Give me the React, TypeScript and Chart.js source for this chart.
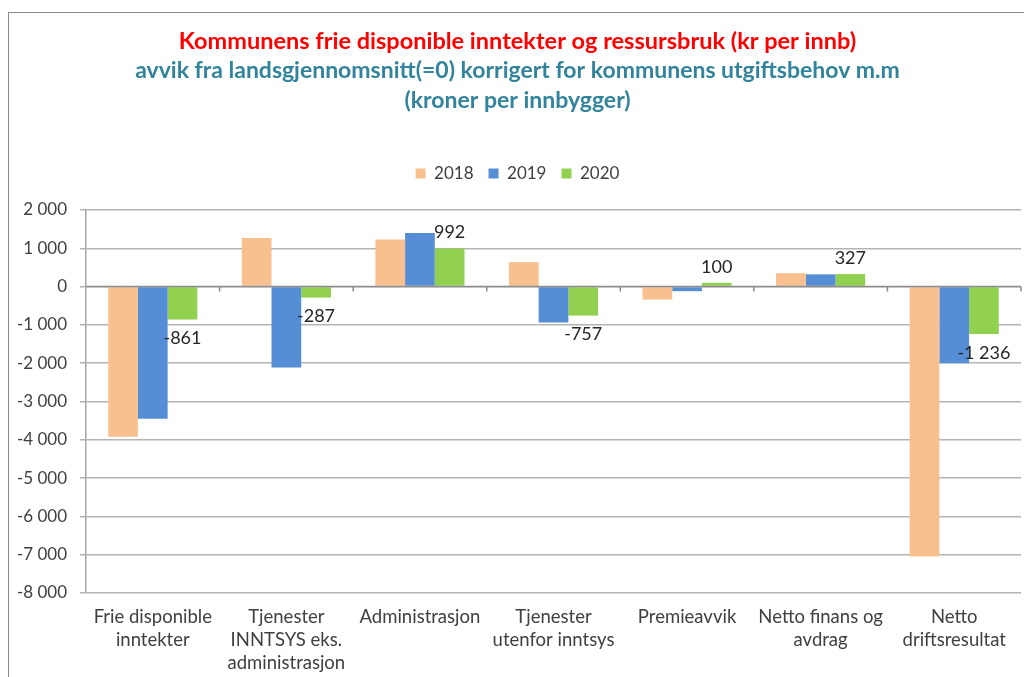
import React, { useEffect, useRef } from "react";
import { Chart, registerables } from "chart.js";

Chart.register(...registerables);

const categories: string[][] = [
  ["Frie disponible", "inntekter"],
  ["Tjenester", "INNTSYS eks.", "administrasjon"],
  ["Administrasjon"],
  ["Tjenester", "utenfor inntsys"],
  ["Premieavvik"],
  ["Netto finans og", "avdrag"],
  ["Netto", "driftsresultat"],
];
const seriesNames = ["2018", "2019", "2020"];
const values2018 = [-3920, 1270, 1230, 640, -340, 350, -7050];
const values2019 = [-3450, -2110, 1400, -940, -120, 320, -2000];
const values2020 = [-861, -287, 992, -757, 100, 327, -1236];
const yMin = -8000;
const yMax = 2000;
const yStep = 1000;

const titleText = "Kommunens frie disponible inntekter og ressursbruk (kr per innb)";
const subtitleLines = [
  "avvik fra landsgjennomsnitt(=0) korrigert for kommunens utgiftsbehov m.m",
  "(kroner per innbygger)",
];

const FONT = "Lato, 'Open Sans', sans-serif";
const TEXT_COLOR = "#404040";

const fmt = (v: number) => {
  const s = Math.abs(Math.round(v)).toString().replace(/\B(?=(\d{3})+(?!\d))/g, " ");
  return (v < 0 ? "-" : "") + s;
};

const zeroTicksPlugin = {
  id: "zeroTicks",
  afterDatasetsDraw(chart: any) {
    const { ctx, scales } = chart;
    const x = scales.x;
    const y = scales.y;
    const y0 = y.getPixelForValue(0);
    ctx.save();
    ctx.strokeStyle = "#8c8c8c";
    ctx.lineWidth = 1.5;
    ctx.beginPath();
    ctx.moveTo(chart.chartArea.left, y0);
    ctx.lineTo(chart.chartArea.right, y0);
    ctx.stroke();
    const n = categories.length;
    for (let i = 0; i < n; i++) {
      const px =
        i < n - 1
          ? (x.getPixelForValue(i) + x.getPixelForValue(i + 1)) / 2
          : chart.chartArea.right;
      ctx.beginPath();
      ctx.moveTo(px, y0);
      ctx.lineTo(px, y0 + 5);
      ctx.stroke();
    }
    ctx.restore();
  },
};

const dataLabelPlugin = {
  id: "dataLabels2020",
  afterDatasetsDraw(chart: any) {
    const { ctx } = chart;
    const meta = chart.getDatasetMeta(2);
    ctx.save();
    ctx.font = `18px ${FONT}`;
    ctx.fillStyle = "#262626";
    ctx.textAlign = "center";
    ctx.textBaseline = "middle";
    meta.data.forEach((el: any, i: number) => {
      const v = values2020[i];
      const yy = v >= 0 ? el.y - 16 : el.y + 19;
      ctx.fillText(fmt(v), el.x, yy);
    });
    ctx.restore();
  },
};

export default function App() {
  const ref = useRef<HTMLCanvasElement>(null);

  useEffect(() => {
    if (!ref.current) return;
    const chart = new Chart(ref.current, {
      type: "bar",
      data: {
        labels: categories,
        datasets: [
          { label: seriesNames[0], data: values2018, backgroundColor: "#F9C08F" },
          { label: seriesNames[1], data: values2019, backgroundColor: "#558ED5" },
          { label: seriesNames[2], data: values2020, backgroundColor: "#92D050" },
        ],
      },
      options: {
        animation: false,
        responsive: false,
        devicePixelRatio: 1,
        layout: { padding: { top: 0, left: 14, right: 3, bottom: 0 } },
        datasets: {
          bar: { categoryPercentage: 0.667, barPercentage: 1 },
        },
        plugins: {
          title: {
            display: true,
            text: titleText,
            color: "#FF0000",
            font: { family: FONT, size: 23.5, weight: "bold", lineHeight: "30px" },
            padding: { top: 26, bottom: 0 },
          },
          subtitle: {
            display: true,
            text: subtitleLines,
            color: "#31849B",
            font: { family: FONT, size: 23, weight: "bold", lineHeight: "30px" },
            padding: { top: 0, bottom: 34 },
          },
          legend: {
            display: true,
            labels: {
              boxWidth: 10,
              boxHeight: 10,
              padding: 15,
              color: TEXT_COLOR,
              font: { family: FONT, size: 17 },
            },
          },
          tooltip: { enabled: false },
        },
        scales: {
          xTop: {
            type: "category",
            position: "top",
            grid: { display: false, drawTicks: false },
            border: { display: false },
            ticks: { display: false },
            afterFit: (s: any) => {
              s.height = 18;
            },
          },
          x: {
            type: "category",
            position: "bottom",
            grid: { display: false, drawTicks: false },
            border: { display: false },
            ticks: {
              color: TEXT_COLOR,
              font: { family: FONT, size: 18.5, lineHeight: "23px" },
              padding: 13,
              maxRotation: 0,
              autoSkip: false,
            },
            afterFit: (s: any) => {
              s.height = 84;
            },
          },
          y: {
            min: yMin,
            max: yMax,
            grid: {
              color: "#b4b4b4",
              lineWidth: 1.5,
              tickLength: 6,
            },
            border: { color: "#a6a6a6", width: 1.5 },
            ticks: {
              stepSize: yStep,
              color: TEXT_COLOR,
              font: { family: FONT, size: 17 },
              padding: 13,
              callback: (v: any) => fmt(Number(v)),
            },
            afterFit: (s: any) => {
              s.width = 72;
            },
          },
        },
      } as any,
      plugins: [zeroTicksPlugin, dataLabelPlugin],
    });
    return () => chart.destroy();
  }, []);

  return (
    <div
      style={{
        position: "fixed",
        left: 0,
        top: 0,
        width: 1024,
        height: 677,
        background: "#fff",
        overflow: "hidden",
      }}
    >
      <div
        style={{
          position: "absolute",
          left: 8,
          top: 12,
          width: 1100,
          height: 800,
          borderLeft: "1.5px solid #888",
          borderTop: "1.5px solid #888",
        }}
      />
      <canvas
        ref={ref}
        width={1024}
        height={677}
        style={{ position: "absolute", left: 0, top: 0, width: 1024, height: 677 }}
      />
    </div>
  );
}
